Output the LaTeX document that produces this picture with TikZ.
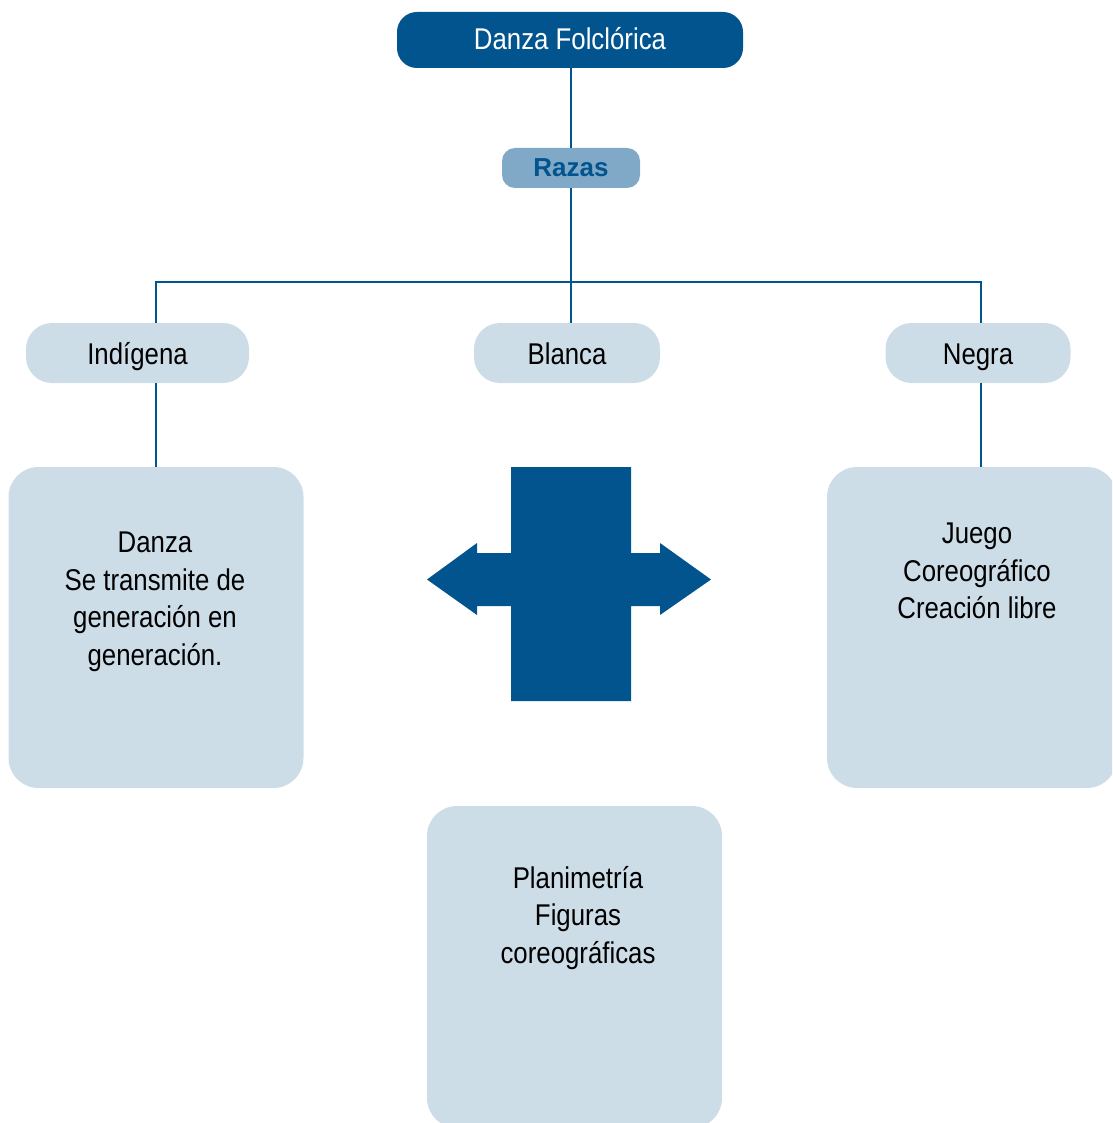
\documentclass[tikz,border=0pt]{standalone}
\usepackage{fontspec}
\setmainfont{Liberation Sans}[FakeStretch=0.86]
\newfontfamily\widefont{Liberation Sans}
\definecolor{dblue}{HTML}{02548F}
\definecolor{lblue}{HTML}{CDDDE8}
\definecolor{mblue}{HTML}{80A9C7}
\tikzset{
  link/.style={draw=dblue, line width=2.8pt},
  topbox/.style={fill=dblue, rounded corners=20pt, inner sep=0pt, text=white,
    font=\fontsize{30}{36}\selectfont, text height=23pt, text depth=4pt},
  midbox/.style={fill=mblue, rounded corners=13pt, inner sep=0pt, text=dblue,
    font=\widefont\bfseries\fontsize{26}{30}\selectfont, text height=21pt, text depth=3pt},
  racebox/.style={fill=lblue, rounded corners=26pt, inner sep=0pt, text=black,
    font=\fontsize{30}{36}\selectfont, text height=26pt, text depth=4pt},
  bigbox/.style={fill=lblue, rounded corners=30pt, inner sep=0pt},
  boxtext/.style={align=center, inner sep=0pt, text=black,
    font=\fontsize{30}{37.5}\selectfont},
}
\begin{document}
\begin{tikzpicture}[x=1pt,y=-1pt]
\useasboundingbox (0,0) rectangle (1112,1123);
\begin{scope}
\clip (0,0) rectangle (1112,1123);
% nodes
\node[topbox, minimum width=346pt, minimum height=56pt] (top) at (570,40) {Danza Folclórica};
\node[midbox, minimum width=138pt, minimum height=40pt] (razas) at (571,168) {Razas};
\node[racebox, minimum width=223pt, minimum height=60pt] (ind) at (137.5,353) {Indígena};
\node[racebox, minimum width=186pt, minimum height=60pt] (bla) at (567,353) {Blanca};
\node[racebox, minimum width=185pt, minimum height=60pt] (neg) at (978,353) {Negra};
\node[bigbox, minimum width=295pt, minimum height=321pt] (lbox) at (156,627.5) {};
\node[bigbox, minimum width=290pt, minimum height=321pt] (rbox) at (972,627.5) {};
\node[bigbox, minimum width=295pt, minimum height=322pt] (bbox) at (574.5,967) {};
\node[boxtext] (ltext) at (155,602) {Danza\\Se transmite de\\generación en\\generación.};
\node[boxtext] (rtext) at (977,571) {Juego\\Coreográfico\\Creación libre};
\node[boxtext] (btext) at (578,918) {Planimetría\\Figuras\\coreográficas};
\coordinate (hub) at (570,282);
% connectors
\draw[link] (top.south -| razas.north) -- (razas.north);
\draw[link] (razas.south) -- (razas.south |- bla.north);
\draw[link] (ind.north -| lbox.north) |- (hub) -| (neg.north -| 981,0);
\draw[link] (ind.south -| lbox.north) -- (lbox.north);
\draw[link] (neg.south -| 981,0) -- (rbox.north -| 981,0);
% cross arrow
\fill[dblue] (511,467) -- (631,467) -- (631,553) -- (660,553) -- (660,543)
  -- (711,579.5) -- (660,615) -- (660,606) -- (631,606) -- (631,701)
  -- (511,701) -- (511,606) -- (477,606) -- (477,615) -- (427,579.5)
  -- (477,543) -- (477,553) -- (511,553) -- cycle;
\end{scope}
\end{tikzpicture}
\end{document}
